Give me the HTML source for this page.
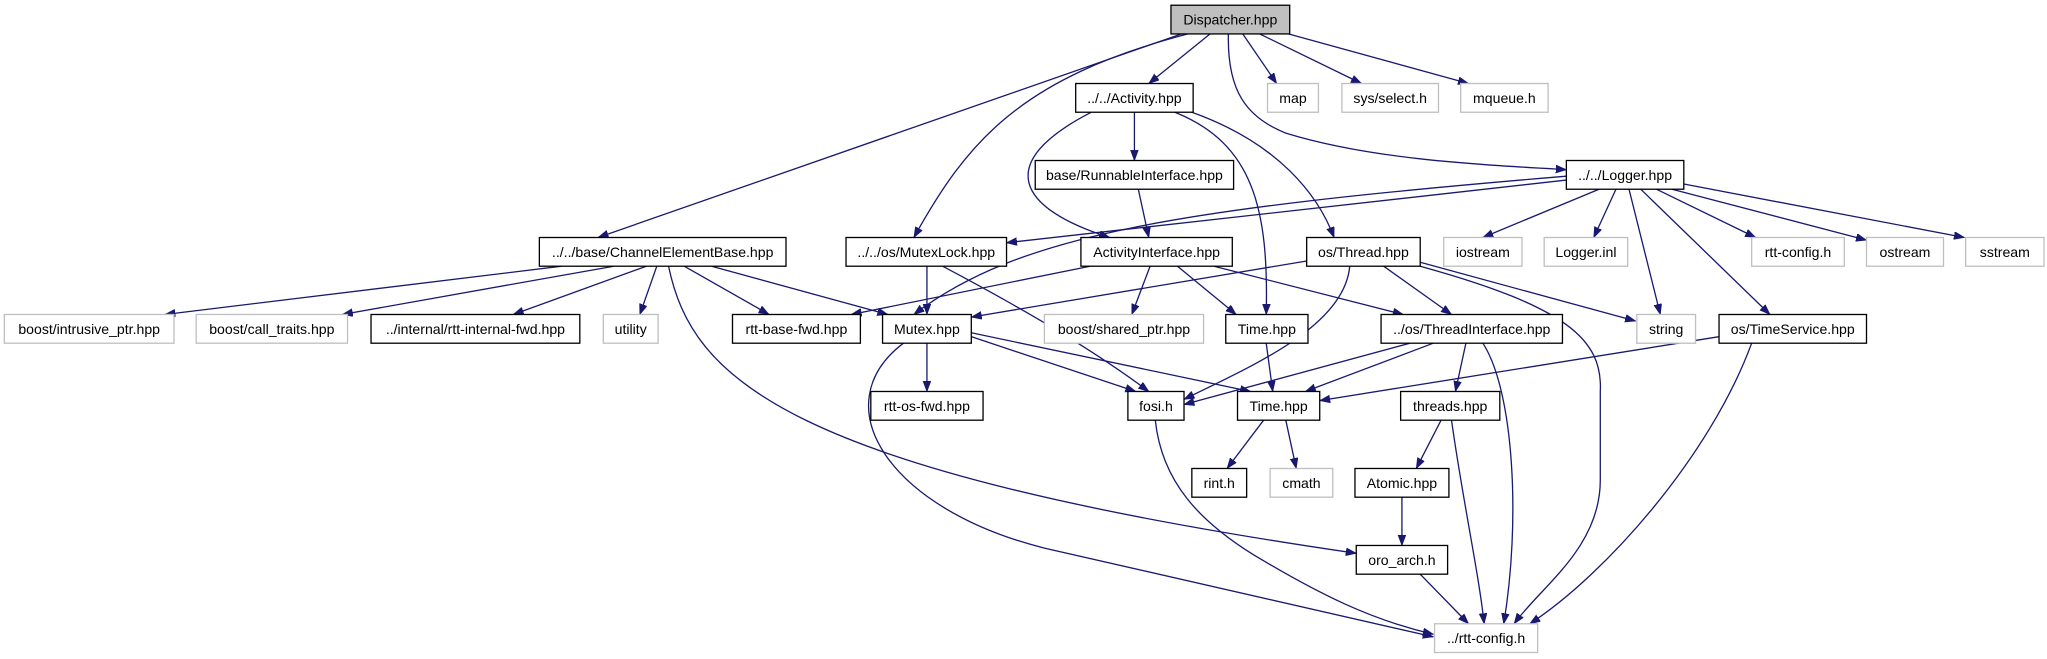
<!DOCTYPE html>
<html><head><meta charset="utf-8"><style>
html,body{margin:0;padding:0;background:#fff;}
svg{display:block;}
text{font-family:"Liberation Sans",sans-serif;font-size:10.8px;text-anchor:middle;fill:#000;}
.n{fill:#fff;stroke:#000;stroke-width:1;}
.g{fill:#fff;stroke:#bfbfbf;stroke-width:1;}
.e{fill:none;stroke:#191970;stroke-width:1;marker-end:url(#a);}
</style></head><body>
<svg width="2047" height="659" viewBox="0 0 1568 505" xmlns="http://www.w3.org/2000/svg">
<defs><marker id="a" markerUnits="userSpaceOnUse" markerWidth="9" markerHeight="7" refX="8" refY="3" orient="auto"><path d="M0,0 L8,3 L0,6 z" fill="#191970" stroke="#191970" stroke-width="0.5"/></marker></defs>

<!-- edges -->
<path class="e" d="M905,26 L458,182"/>
<path class="e" d="M910,26 C780,60 740,110 700,182"/>
<path class="e" d="M927,26 L880,64"/>
<path class="e" d="M952,26 L978,64"/>
<path class="e" d="M965,26 L1043,64"/>
<path class="e" d="M980,24 L1125,64"/>
<path class="e" d="M941,26 C940,70 955,90 985,102 C1050,122 1130,126 1200,130"/>
<path class="e" d="M869,86 L869,123"/>
<path class="e" d="M836,86 C760,125 780,160 850,182"/>
<path class="e" d="M900,86 C960,110 972,160 970,241"/>
<path class="e" d="M913,86 C980,110 1010,150 1022,182"/>
<path class="e" d="M872,145 L880,182"/>
<path class="e" d="M1200,138 L771,186"/>
<path class="e" d="M1200,135 C900,160 780,180 700,241"/>
<path class="e" d="M1225,145 L1136,182"/>
<path class="e" d="M1238,145 L1221,182"/>
<path class="e" d="M1248,145 L1272,241"/>
<path class="e" d="M1257,145 L1356,241"/>
<path class="e" d="M1269,145 L1345,182"/>
<path class="e" d="M1281,145 L1430,184"/>
<path class="e" d="M1290,141 L1505,182"/>
<path class="e" d="M430,204 L126,241"/>
<path class="e" d="M470,204 L262,241"/>
<path class="e" d="M495,204 L393,241"/>
<path class="e" d="M503,204 L490,241"/>
<path class="e" d="M524,204 L589,241"/>
<path class="e" d="M545,204 L680,241"/>
<path class="e" d="M512,204 C530,290 600,360 1039,424"/>
<path class="e" d="M710,204 L710,241"/>
<path class="e" d="M722,204 C790,240 840,270 880,300"/>
<path class="e" d="M835,204 L652,241"/>
<path class="e" d="M881,204 L867,241"/>
<path class="e" d="M902,204 L947,241"/>
<path class="e" d="M930,204 L1075,241"/>
<path class="e" d="M1001,200 L744,243"/>
<path class="e" d="M1034,204 C1030,250 960,280 907,306"/>
<path class="e" d="M1060,204 L1112,241"/>
<path class="e" d="M1088,201 L1253,246"/>
<path class="e" d="M1088,204 C1200,235 1228,260 1226,300 L1226,368 C1226,420 1180,450 1160,478"/>
<path class="e" d="M710,263 L710,300"/>
<path class="e" d="M744,258 L870,300"/>
<path class="e" d="M744,255 L958,300"/>
<path class="e" d="M692,263 C630,310 680,390 800,420 L1098,488"/>
<path class="e" d="M885,322 C890,370 920,400 960,425 C1010,455 1050,475 1098,486"/>
<path class="e" d="M970,263 L975,300"/>
<path class="e" d="M1080,263 L907,310"/>
<path class="e" d="M1098,263 L1000,300"/>
<path class="e" d="M1123,263 L1115,300"/>
<path class="e" d="M1136,263 C1160,300 1165,400 1152,478"/>
<path class="e" d="M1317,258 L1011,307"/>
<path class="e" d="M1342,263 C1310,350 1230,440 1172,478"/>
<path class="e" d="M968,322 L940,359"/>
<path class="e" d="M985,322 L993,359"/>
<path class="e" d="M1104,322 L1085,359"/>
<path class="e" d="M1112,322 C1120,380 1133,440 1137,478"/>
<path class="e" d="M1074,381 L1074,418"/>
<path class="e" d="M1088,440 L1125,478"/>

<!-- nodes -->
<rect x="897" y="4" width="91" height="22" fill="#bfbfbf" stroke="#000"/><text x="942.5" y="18.8">Dispatcher.hpp</text>
<rect class="n" x="824" y="64" width="90" height="22"/><text x="869" y="78.8">../../Activity.hpp</text>
<rect class="g" x="971" y="64" width="39" height="22"/><text x="990.5" y="78.8">map</text>
<rect class="g" x="1028" y="64" width="74" height="22"/><text x="1065" y="78.8">sys/select.h</text>
<rect class="g" x="1119" y="64" width="67" height="22"/><text x="1152.5" y="78.8">mqueue.h</text>
<rect class="n" x="793" y="123" width="152" height="22"/><text x="869" y="137.8">base/RunnableInterface.hpp</text>
<rect class="n" x="1200" y="123" width="90" height="22"/><text x="1245" y="137.8">../../Logger.hpp</text>
<rect class="n" x="413" y="182" width="189" height="22"/><text x="507.5" y="196.8">../../base/ChannelElementBase.hpp</text>
<rect class="n" x="648" y="182" width="123" height="22"/><text x="709.5" y="196.8">../../os/MutexLock.hpp</text>
<rect class="n" x="828" y="182" width="116" height="22"/><text x="886" y="196.8">ActivityInterface.hpp</text>
<rect class="n" x="1001" y="182" width="87" height="22"/><text x="1044.5" y="196.8">os/Thread.hpp</text>
<rect class="g" x="1106" y="182" width="60" height="22"/><text x="1136" y="196.8">iostream</text>
<rect class="g" x="1183" y="182" width="64" height="22"/><text x="1215" y="196.8">Logger.inl</text>
<rect class="g" x="1342" y="182" width="71" height="22"/><text x="1377.5" y="196.8">rtt-config.h</text>
<rect class="g" x="1430" y="182" width="59" height="22"/><text x="1459.5" y="196.8">ostream</text>
<rect class="g" x="1506" y="182" width="60" height="22"/><text x="1536" y="196.8">sstream</text>
<rect class="g" x="3" y="241" width="130" height="22"/><text x="68" y="255.8">boost/intrusive_ptr.hpp</text>
<rect class="g" x="150" y="241" width="116" height="22"/><text x="208" y="255.8">boost/call_traits.hpp</text>
<rect class="n" x="284" y="241" width="160" height="22"/><text x="364" y="255.8">../internal/rtt-internal-fwd.hpp</text>
<rect class="g" x="462" y="241" width="42" height="22"/><text x="483" y="255.8">utility</text>
<rect class="n" x="561" y="241" width="98" height="22"/><text x="610" y="255.8">rtt-base-fwd.hpp</text>
<rect class="n" x="676" y="241" width="68" height="22"/><text x="710" y="255.8">Mutex.hpp</text>
<rect class="g" x="800" y="241" width="122" height="22"/><text x="861" y="255.8">boost/shared_ptr.hpp</text>
<rect class="n" x="939" y="241" width="63" height="22"/><text x="970.5" y="255.8">Time.hpp</text>
<rect class="n" x="1058" y="241" width="139" height="22"/><text x="1127.5" y="255.8">../os/ThreadInterface.hpp</text>
<rect class="g" x="1254" y="241" width="45" height="22"/><text x="1276.5" y="255.8">string</text>
<rect class="n" x="1317" y="241" width="113" height="22"/><text x="1373.5" y="255.8">os/TimeService.hpp</text>
<rect class="n" x="667" y="300" width="86" height="22"/><text x="710" y="314.8">rtt-os-fwd.hpp</text>
<rect class="n" x="864" y="300" width="43" height="22"/><text x="885.5" y="314.8">fosi.h</text>
<rect class="n" x="948" y="300" width="63" height="22"/><text x="979.5" y="314.8">Time.hpp</text>
<rect class="n" x="1073" y="300" width="76" height="22"/><text x="1111" y="314.8">threads.hpp</text>
<rect class="n" x="913" y="359" width="42" height="22"/><text x="934" y="373.8">rint.h</text>
<rect class="g" x="973" y="359" width="48" height="22"/><text x="997" y="373.8">cmath</text>
<rect class="n" x="1038" y="359" width="72" height="22"/><text x="1074" y="373.8">Atomic.hpp</text>
<rect class="n" x="1039" y="418" width="70" height="22"/><text x="1074" y="432.8">oro_arch.h</text>
<rect class="g" x="1099" y="478" width="79" height="22"/><text x="1138.5" y="492.8">../rtt-config.h</text>
</svg>
</body></html>
